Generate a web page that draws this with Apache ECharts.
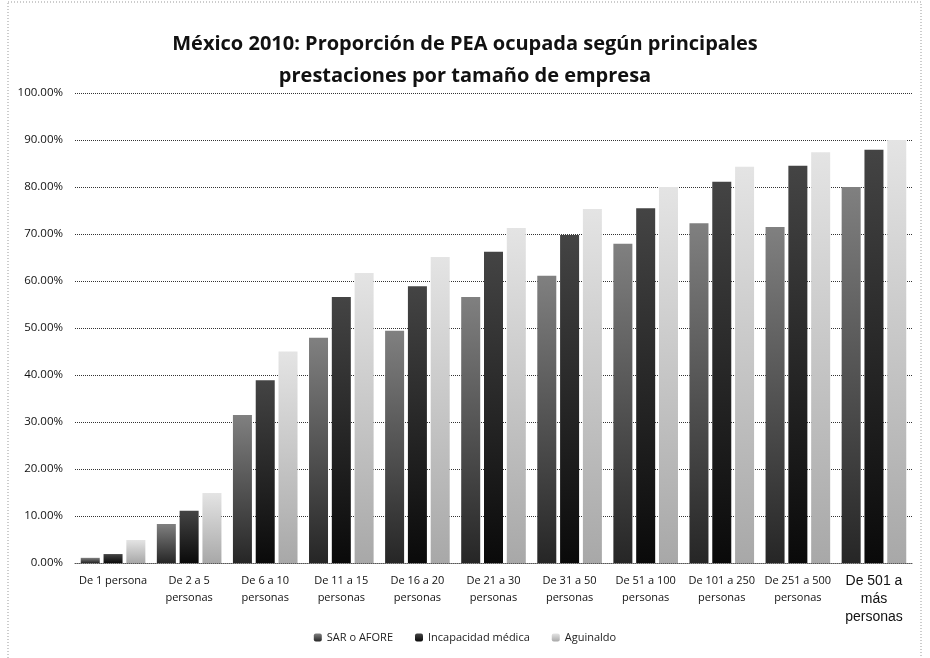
<!DOCTYPE html>
<html><head><meta charset="utf-8">
<script src="https://cdn.jsdelivr.net/npm/echarts@6/dist/echarts.min.js"></script>
<style>html,body{margin:0;padding:0;background:#fff}#c{width:930px;height:658px}</style>
</head><body><div id="c"></div>
<script>
const categories = ["De 1 persona","De 2 a 5\npersonas","De 6 a 10\npersonas","De 11 a 15\npersonas","De 16 a 20\npersonas","De 21 a 30\npersonas","De 31 a 50\npersonas","De 51 a 100\npersonas","De 101 a 250\npersonas","De 251 a 500\npersonas","De 501 a\nmás\npersonas"];
const sarAfore = [1.1, 8.3, 31.5, 47.9, 49.4, 56.6, 61.1, 67.9, 72.3, 71.5, 80.0];
const incapacidad = [1.9, 11.1, 38.9, 56.6, 58.9, 66.2, 69.8, 75.5, 81.1, 84.5, 87.9];
const aguinaldo = [4.9, 14.9, 45.0, 61.7, 65.1, 71.3, 75.3, 80.0, 84.3, 87.4, 90.0];
const seriesNames = ["SAR o AFORE","Incapacidad médica","Aguinaldo"];
const titleText = "México 2010: Proporción de PEA ocupada según principales\nprestaciones por tamaño de empresa";

function grad(top, bottom){
  return new echarts.graphic.LinearGradient(0,0,0,1,[{offset:0,color:top},{offset:1,color:bottom}]);
}
const chart = echarts.init(document.getElementById('c'), null, {renderer:'canvas'});
const font = "'Open Sans', 'DejaVu Sans', sans-serif";
chart.setOption({
  backgroundColor:'#fff',
  animation:false,
  title:{text:titleText,left:'center',top:23,textStyle:{fontFamily:"'Open Sans', sans-serif",fontSize:20,fontWeight:'bold',color:'#111',lineHeight:32}},
  legend:{bottom:10,left:'center',itemWidth:8,itemHeight:8,itemGap:22,textStyle:{fontFamily:font,fontSize:11,color:'#222'},data:seriesNames},
  grid:{left:75,right:18,top:93,bottom:95,containLabel:false},
  xAxis:{type:'category',data:categories,axisTick:{show:false},axisLine:{show:true,lineStyle:{color:'#555',type:'dotted'}},
    axisLabel:{interval:0,color:'#111',fontFamily:font,fontSize:11,lineHeight:17,margin:9,
      formatter:function(v,i){return i===10?'{big|'+v+'}':v;},
      rich:{big:{fontFamily:"'Liberation Sans', sans-serif",fontSize:14,lineHeight:18,color:'#111'}}}},
  yAxis:{type:'value',min:0,max:100,interval:10,
    axisLabel:{formatter:function(v){return v.toFixed(2)+'%';},color:'#111',fontFamily:font,fontSize:11.5,margin:12},
    axisLine:{show:false},axisTick:{show:false},
    splitLine:{lineStyle:{color:'#333',type:'dotted',width:1}}},
  series:[
    {name:seriesNames[0],type:'bar',data:sarAfore,barWidth:19,barGap:'20%',itemStyle:{color:grad('#808080','#262626')}},
    {name:seriesNames[1],type:'bar',data:incapacidad,barWidth:19,barGap:'20%',itemStyle:{color:grad('#444','#0a0a0a')}},
    {name:seriesNames[2],type:'bar',data:aguinaldo,barWidth:19,barGap:'20%',itemStyle:{color:grad('#e4e4e4','#a8a8a8')}}
  ],
  graphic:[{type:'rect',shape:{x:8,y:2,width:913,height:660},style:{fill:'none',stroke:'#999',lineDash:[1,2],lineWidth:1},silent:true}]
});
</script></body></html>
